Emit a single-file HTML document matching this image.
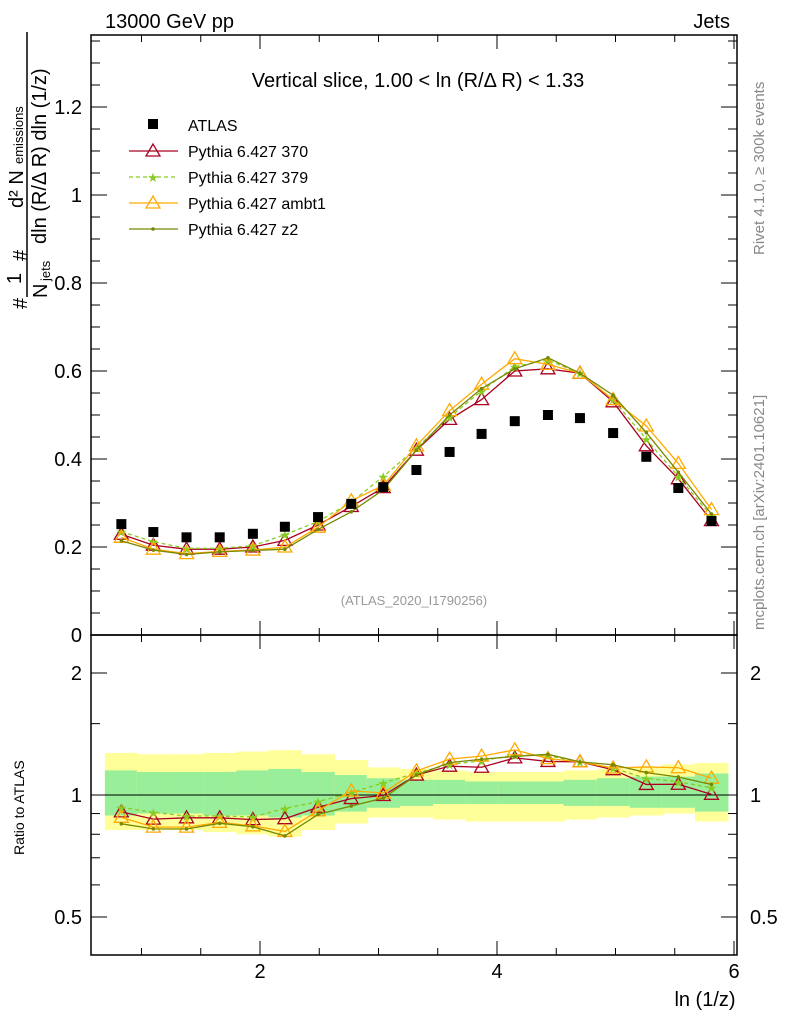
<!DOCTYPE html>
<html><head><meta charset="utf-8"><style>
body{margin:0;background:#fff;}
svg{display:block;font-family:"Liberation Sans",sans-serif;}
</style></head><body>
<svg id="c" width="786" height="1024" xmlns="http://www.w3.org/2000/svg">
<text x="105" y="28" font-size="20">13000 GeV pp</text>
<text x="730" y="28" font-size="20" text-anchor="end">Jets</text>
<text x="418" y="87" font-size="20" text-anchor="middle">Vertical slice, 1.00 &lt; ln (R/Δ R) &lt; 1.33</text>
<text x="414" y="605" font-size="13" fill="#999" text-anchor="middle">(ATLAS_2020_I1790256)</text>
<text transform="translate(764,255) rotate(-90)" font-size="15" fill="#888">Rivet 4.1.0, ≥ 300k events</text>
<text transform="translate(764,630) rotate(-90)" font-size="15" fill="#888">mcplots.cern.ch [arXiv:2401.10621]</text>
<g>
<line x1="27" y1="32" x2="27" y2="297" stroke="#000" stroke-width="1.5"/>
<text transform="translate(27,261) rotate(-90)" font-size="20">#</text>
<text transform="translate(21,284) rotate(-90)" font-size="20">1</text>
<text transform="translate(27,309) rotate(-90)" font-size="20">#</text>
<text transform="translate(47,298) rotate(-90)" font-size="20">N</text>
<text transform="translate(50,281) rotate(-90)" font-size="13">jets</text>
<text transform="translate(46,244) rotate(-90)" font-size="20">dln (R/Δ R) dln (1/z)</text>
<text transform="translate(23,208) rotate(-90)" font-size="20">d² N</text>
<text transform="translate(23,164) rotate(-90)" font-size="13">emissions</text>
</g>
<text x="24" y="855" font-size="14" transform="rotate(-90,24,855)">Ratio to ATLAS</text>
<text x="705" y="1006" font-size="20" text-anchor="middle">ln (1/z)</text>
<g id="g"></g>
</svg>
<script>
const xs=[0.83,1.1,1.38,1.66,1.94,2.21,2.49,2.77,3.04,3.32,3.6,3.87,4.15,4.43,4.7,4.98,5.26,5.53,5.81];
const atlas=[0.252,0.234,0.222,0.222,0.23,0.246,0.268,0.298,0.336,0.375,0.416,0.457,0.486,0.5,0.493,0.459,0.405,0.334,0.259];
const p370=[0.229,0.204,0.195,0.195,0.2,0.215,0.25,0.292,0.335,0.42,0.49,0.535,0.6,0.605,0.595,0.53,0.43,0.355,0.26];
const p379=[0.235,0.212,0.197,0.197,0.203,0.228,0.258,0.302,0.36,0.425,0.495,0.555,0.61,0.625,0.595,0.535,0.445,0.36,0.27];
const pambt1=[0.222,0.195,0.185,0.19,0.193,0.2,0.245,0.305,0.34,0.43,0.51,0.57,0.628,0.615,0.595,0.535,0.475,0.39,0.285];
const pz2=[0.214,0.193,0.183,0.189,0.192,0.195,0.24,0.28,0.33,0.42,0.5,0.56,0.605,0.63,0.595,0.545,0.46,0.37,0.275];
const yelUp=[1.27,1.26,1.26,1.27,1.28,1.29,1.26,1.22,1.17,1.16,1.15,1.14,1.14,1.14,1.15,1.16,1.17,1.19,1.2];
const yelLo=[0.82,0.82,0.82,0.81,0.8,0.79,0.82,0.85,0.88,0.88,0.87,0.86,0.86,0.86,0.87,0.88,0.89,0.9,0.86];
const grnUp=[1.15,1.14,1.14,1.14,1.15,1.16,1.14,1.12,1.1,1.09,1.09,1.08,1.08,1.08,1.09,1.1,1.11,1.11,1.13];
const grnLo=[0.89,0.9,0.9,0.89,0.89,0.88,0.89,0.91,0.93,0.94,0.95,0.95,0.95,0.95,0.94,0.94,0.93,0.93,0.91];
const xTicks=[2,4,6], yTicks=[0,0.2,0.4,0.6,0.8,1,1.2], rTicks=[0.5,1,2];
const L=91,R=737,T=35,M=635,B=955;
const X=v=>23+118.5*v, Y=v=>635-440*v, RY=v=>795-122*Math.log2(v);
const g=document.getElementById('g'),NS='http://www.w3.org/2000/svg';
function mk(t,a,p){const e=document.createElementNS(NS,t);for(const k in a)e.setAttribute(k,a[k]);(p||g).appendChild(e);return e;}
const hw=0.139;
for(let i=0;i<xs.length;i++){
 let e=mk('rect',{x:X(xs[i]-hw),width:X(xs[i]+hw)-X(xs[i]-hw)+0.5,y:RY(yelUp[i]),height:RY(yelLo[i])-RY(yelUp[i]),fill:'#ffff99'});
 
 
 e=mk('rect',{x:X(xs[i]-hw),width:X(xs[i]+hw)-X(xs[i]-hw)+0.5,y:RY(grnUp[i]),height:RY(grnLo[i])-RY(grnUp[i]),fill:'#99ee99'});
 
 
}
mk('line',{x1:L,x2:R,y1:RY(1),y2:RY(1),stroke:'#000','stroke-width':1});
for(const [y1,y2] of [[T,M],[M,B]]){mk('rect',{x:L,y:y1,width:R-L,height:y2-y1,fill:'none',stroke:'#000','stroke-width':1.5});}
for(let v=1;v<=6;v+=0.5){const major=Number.isInteger(v)&&v%2==0;const len=major?14:7,x=X(v);
 for(const [a,b] of [[T,M],[M,B]]){mk('line',{x1:x,x2:x,y1:a,y2:a+len,stroke:'#000'});mk('line',{x1:x,x2:x,y1:b,y2:b-len,stroke:'#000'});}}
xTicks.forEach(v=>{const t=mk('text',{x:X(v),y:978,'font-size':20,'text-anchor':'middle'});t.textContent=v;
 
 });
for(let v=0;v<=1.37;v+=0.05){const y=Y(v);if(y<T)break;const major=Math.abs(v*5-Math.round(v*5))<1e-6;const len=major?16:9;
 mk('line',{x1:L,x2:L+len,y1:y,y2:y,stroke:'#000'});mk('line',{x1:R,x2:R-len,y1:y,y2:y,stroke:'#000'});}
yTicks.forEach(v=>{const t=mk('text',{x:82,y:Y(v)+7,'font-size':20,'text-anchor':'end'});t.textContent=v;
 
 });
[0.5,0.6,0.7,0.8,0.9,1,1.5,2].forEach(v=>{const y=RY(v);const major=rTicks.includes(v);const len=major?16:9;
 mk('line',{x1:L,x2:L+len,y1:y,y2:y,stroke:'#000'});mk('line',{x1:R,x2:R-len,y1:y,y2:y,stroke:'#000'});});
rTicks.forEach(v=>{let t=mk('text',{x:82,y:RY(v)+7,'font-size':20,'text-anchor':'end'});t.textContent=v;
 
 
 t=mk('text',{x:750,y:RY(v)+7,'font-size':20});t.textContent=v;
 
 });
function marker(kind,x,y,col,p){
 if(kind=='tri')mk('polygon',{points:`${x},${y-7} ${x-7},${y+5} ${x+7},${y+5}`,fill:'none',stroke:col,'stroke-width':1.3},p);
 else if(kind=='star')mk('text',{x:x,y:y+5,'font-size':13,'text-anchor':'middle',fill:col},p).textContent='★';
 else if(kind=='dot')mk('circle',{cx:x,cy:y,r:1.8,fill:col},p);
}
const series=[[p370,'#aa0022','tri','','series-370'],[p379,'#88cc22','star','4,3','series-379'],[pambt1,'#ffaa00','tri','','series-ambt1'],[pz2,'#778800','dot','','series-z2']];
series.forEach(([d,col,kind,dash,name])=>{
 const grp=mk('g',{});
 
 
 mk('polyline',{points:xs.map((x,i)=>X(x)+','+Y(d[i])).join(' '),fill:'none',stroke:col,'stroke-width':1.3,'stroke-dasharray':dash},grp);
 mk('polyline',{points:xs.map((x,i)=>X(x)+','+RY(d[i]/atlas[i])).join(' '),fill:'none',stroke:col,'stroke-width':1.3,'stroke-dasharray':dash},grp);
 xs.forEach((x,i)=>{marker(kind,X(x),Y(d[i]),col,grp);marker(kind,X(x),RY(d[i]/atlas[i]),col,grp);});
});
xs.forEach((x,i)=>{const r=mk('rect',{x:X(x)-5,y:Y(atlas[i])-5,width:10,height:10,fill:'#000'});
 
 });
const leg=mk('g',{});


mk('rect',{x:148,y:119,width:10,height:10,fill:'#000'},leg);
mk('text',{x:188,y:131,'font-size':16},leg).textContent='ATLAS';
const labels=['Pythia 6.427 370','Pythia 6.427 379','Pythia 6.427 ambt1','Pythia 6.427 z2'];
series.forEach(([d,col,kind,dash],i)=>{const y=151+26*i;
 mk('line',{x1:129,x2:178,y1:y,y2:y,stroke:col,'stroke-width':1.3,'stroke-dasharray':dash},leg);
 marker(kind,153,y,col,leg);
 mk('text',{x:188,y:y+6,'font-size':16},leg).textContent=labels[i];});
</script>
</body></html>
